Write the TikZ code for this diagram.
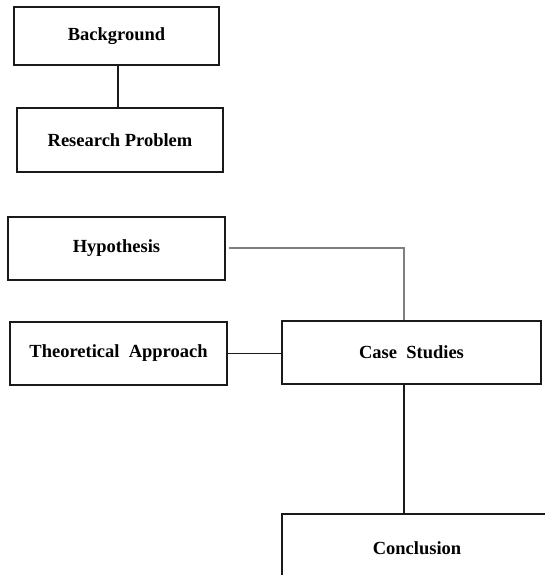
\documentclass[tikz,border=0pt]{standalone}
\usepackage{fontspec}
\setmainfont{Liberation Serif}
\usetikzlibrary{positioning}
\definecolor{Ink}{HTML}{1A1A1A}
\definecolor{LinkGray}{HTML}{7F7F7F}
\tikzset{
  stage/.style={
    draw=Ink, line width=1.1pt, fill=white, inner sep=0pt,
    font=\fontsize{18.5}{21}\selectfont\bfseries, text=black, align=center
  },
  link/.style={draw=Ink, line width=1.1pt},
  greylink/.style={draw=LinkGray, line width=2pt}
}
\begin{document}
\begin{tikzpicture}[x=1pt,y=-1pt]
        \clip (0,0) rectangle (545,575);
        \fill[white] (0,0) rectangle (545,575);
        % left column
        \node[stage,minimum width=205pt,minimum height=58pt] (bg) at (116.5,36) {Background};
        \node[stage,minimum width=206pt,minimum height=64pt] (rp) at (120,140) {Research Problem};
        \node[stage,minimum width=217pt,minimum height=63pt] (hyp) at (116.5,248.5) {Hypothesis};
        \node[stage,minimum width=217pt,minimum height=63pt] (theo) at (118.5,353.5) {Theoretical\ \ Approach};
        % right column
        \node[stage,minimum width=259pt,minimum height=63pt] (case) at (411.5,352.5) {Case\ \ Studies};
        \node[stage,minimum width=270pt,minimum height=68pt] (concl) at (417,548) {Conclusion};
        % connectors
        \coordinate (bend) at (404,248);
        \draw[link] (bg.south -| 118,0) -- (rp.north -| 118,0);
        \draw[greylink] ([xshift=3pt]hyp.east |- bend) -- (bend) -- (case.north -| bend);
        \draw[link] (theo.east) -- (case.west |- theo.east);
        \draw[link] (case.south -| bend) -- (concl.north -| bend);
      \end{tikzpicture}
\end{document}
